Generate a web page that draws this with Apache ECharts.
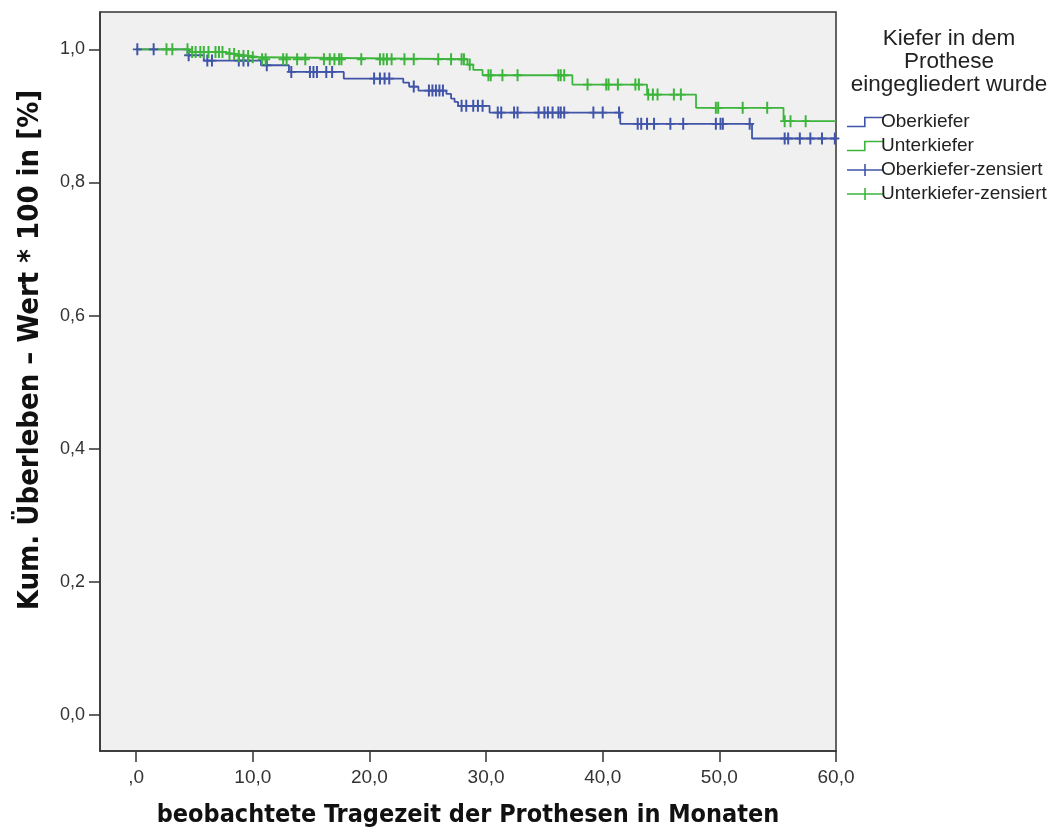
<!DOCTYPE html>
<html>
<head>
<meta charset="utf-8">
<script src="https://cdn.jsdelivr.net/npm/echarts@6/dist/echarts.min.js"></script>
<style>
  html, body { margin: 0; padding: 0; background: #ffffff; }
  #chart { width: 1062px; height: 829px; }
</style>
</head>
<body>
<div id="chart"></div>
<script>
// Kaplan-Meier step data: time (months) at which survival changes, and survival from then on
const oberTimes = [0, 4.4, 5.8, 10.7, 13.1, 17.8, 22.9, 23.4, 24.2, 26.6, 27.0, 27.3, 27.6, 30.3, 41.5, 52.8];
const oberSurv  = [1.0, 0.991, 0.983, 0.976, 0.966, 0.956, 0.950, 0.944, 0.938, 0.933, 0.926, 0.921, 0.915, 0.905, 0.888, 0.866];
const unterTimes = [0, 4.6, 7.5, 8.5, 9.8, 10.8, 28.4, 28.9, 29.7, 37.4, 43.8, 48.0, 55.5];
const unterSurv  = [1.0, 0.996, 0.993, 0.990, 0.988, 0.985, 0.977, 0.969, 0.961, 0.947, 0.932, 0.912, 0.892];

// Censored observations (months)
const oberCensored = [0.1, 1.5, 4.5, 6.1, 6.5, 8.8, 9.2, 9.6, 11.2, 13.3, 14.9, 15.2, 15.5, 16.3, 16.8,
  20.4, 20.9, 21.3, 21.7, 23.8, 25.1, 25.4, 25.7, 26.0, 26.3, 27.9, 28.3, 28.9, 29.3, 29.7,
  31.0, 31.3, 32.4, 32.7, 34.5, 35.0, 35.3, 35.7, 36.2, 36.4, 36.7, 39.2, 40.0, 41.4,
  43.0, 43.3, 43.8, 44.4, 45.8, 46.9, 49.7, 50.1, 50.3, 52.6, 55.6, 55.9, 56.9, 57.8, 58.8, 59.9];
const unterCensored = [2.6, 3.1, 4.4, 4.8, 5.1, 5.5, 5.8, 6.2, 6.8, 7.1, 7.4, 8.0, 8.4, 8.8, 9.2, 9.6,
  10.0, 10.8, 11.1, 12.6, 12.9, 13.8, 14.5, 16.1, 16.6, 17.0, 17.4, 17.6, 19.3, 20.9, 21.2,
  21.5, 21.9, 23.0, 23.8, 25.9, 27.0, 27.9, 28.1, 28.6, 30.2, 30.4, 31.4, 32.7, 36.2, 36.4,
  36.7, 38.7, 40.3, 40.5, 41.3, 42.8, 43.1, 43.9, 44.3, 44.7, 46.1, 46.7, 49.7, 49.9, 52.0,
  54.1, 55.6, 56.1, 57.4];

const xTicks = [0, 10, 20, 30, 40, 50, 60];
const yTicks = [0, 0.2, 0.4, 0.6, 0.8, 1.0];
const xEnd = 60;

const seriesNames = ['Oberkiefer', 'Unterkiefer', 'Oberkiefer-zensiert', 'Unterkiefer-zensiert'];
const legendTitle = 'Kiefer in dem\nProthese\neingegliedert wurde';
const xTitle = 'beobachtete Tragezeit der Prothesen in Monaten';
const yTitle = 'Kum. Überleben – Wert * 100 in [%]';

const BLUE = '#4054a8';
const GREEN = '#3db53d';

function stepPoints(times, surv) {
  const pts = times.map((t, i) => [t, surv[i]]);
  pts.push([xEnd, surv[surv.length - 1]]);
  return pts;
}
function survivalAt(times, surv, t) {
  let s = surv[0];
  for (let i = 0; i < times.length; i++) { if (times[i] <= t) s = surv[i]; }
  return s;
}
function censorPoints(list, times, surv) {
  return list.map(t => [t, survivalAt(times, surv, t)]);
}

// plus-shaped marker for censored cases
const crossMark = 'path://M3.9,0 H6.1 V12 H3.9 Z M0,5.1 H10 V6.9 H0 Z';
const stepIcon = 'path://M0,9 H17 V0 H36 V1.6 H18.6 V10.6 H0 Z';
const crossIcon = 'path://M0,5.2 H36 V6.8 H0 Z M17.2,0 H18.8 V12 H17.2 Z';

const font = '"Liberation Sans", Arial, sans-serif';
const narrow = '"DejaVu Sans Condensed", "Liberation Sans", sans-serif';
const decimal = v => (v === 0 ? ',0' : v.toFixed(1).replace('.', ','));

const chart = echarts.init(document.getElementById('chart'), null, { renderer: 'canvas' });
chart.setOption({
  animation: false,
  backgroundColor: '#ffffff',
  grid: {
    left: 100, right: 226, top: 12, bottom: 78,
    containLabel: false, outerBoundsMode: 'none',
    show: true, backgroundColor: '#f0f0f0', borderColor: '#333333', borderWidth: 1.5
  },
  xAxis: {
    type: 'value', min: -3.1, max: 60,
    axisLine: { show: true, onZero: false, lineStyle: { color: '#333333', width: 1.5 } },
    axisTick: { show: true, length: 11, customValues: xTicks, lineStyle: { color: '#333333', width: 1.5 } },
    axisLabel: {
      customValues: xTicks, margin: 17, color: '#333333', fontFamily: font, fontSize: 19,
      formatter: decimal
    },
    splitLine: { show: false },
    name: xTitle, nameLocation: 'middle', nameGap: 52,
    nameTextStyle: { fontFamily: narrow, fontWeight: 'bold', fontSize: 25, color: '#111111' }
  },
  yAxis: {
    type: 'value', min: -0.054, max: 1.056,
    axisLine: { show: true, onZero: false, lineStyle: { color: '#333333', width: 1.5 } },
    axisTick: { show: true, length: 11, customValues: yTicks, lineStyle: { color: '#333333', width: 1.5 } },
    axisLabel: {
      customValues: yTicks, margin: 15, color: '#333333', fontFamily: font, fontSize: 18,
      formatter: v => v.toFixed(1).replace('.', ',')
    },
    splitLine: { show: false }
  },
  legend: {
    orient: 'vertical', left: 842, top: 107, itemGap: 4, itemWidth: 36, itemHeight: 14,
    textStyle: { fontFamily: font, fontSize: 19, lineHeight: 20, color: '#222222', padding: [0, 0, 0, -7] },
    data: [
      { name: seriesNames[0], icon: stepIcon },
      { name: seriesNames[1], icon: stepIcon },
      { name: seriesNames[2], icon: crossIcon },
      { name: seriesNames[3], icon: crossIcon }
    ]
  },
  graphic: [
    {
      type: 'text', x: 949, y: 27,
      style: {
        text: legendTitle, fill: '#222222', font: '22.5px ' + font,
        align: 'center', lineHeight: 23
      }
    },
    {
      // vertical axis title
      type: 'text', x: 30, y: 350, rotation: Math.PI / 2,
      style: {
        text: yTitle, fill: '#111111', font: 'bold 29px ' + narrow,
        align: 'center', verticalAlign: 'middle'
      }
    }
  ],
  series: [
    {
      name: seriesNames[0], type: 'line', step: 'end', showSymbol: false,
      data: stepPoints(oberTimes, oberSurv), z: 2,
      lineStyle: { color: BLUE, width: 1.8 }, itemStyle: { color: BLUE }
    },
    {
      name: seriesNames[1], type: 'line', step: 'end', showSymbol: false,
      data: stepPoints(unterTimes, unterSurv), z: 3,
      lineStyle: { color: GREEN, width: 1.8 }, itemStyle: { color: GREEN }
    },
    {
      name: seriesNames[2], type: 'scatter', symbol: crossMark, symbolSize: [9, 12],
      data: censorPoints(oberCensored, oberTimes, oberSurv), z: 4,
      itemStyle: { color: BLUE, opacity: 1 }
    },
    {
      name: seriesNames[3], type: 'scatter', symbol: crossMark, symbolSize: [9, 12],
      data: censorPoints(unterCensored, unterTimes, unterSurv), z: 5,
      itemStyle: { color: GREEN, opacity: 1 }
    }
  ]
});
</script>
</body>
</html>
